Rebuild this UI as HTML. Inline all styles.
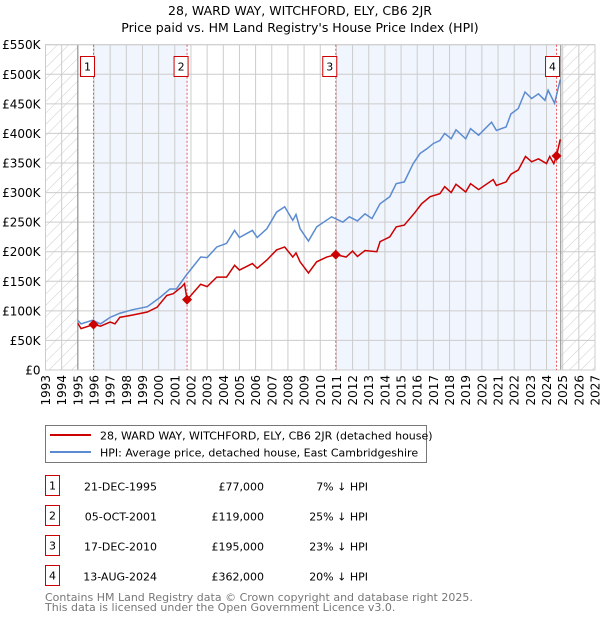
<!DOCTYPE html>
<html><head><meta charset="utf-8">
<style>
body{margin:0;background:#fff;font-family:"DejaVu Sans","Liberation Sans",sans-serif;}
svg text{font-family:"DejaVu Sans","Liberation Sans",sans-serif;}
</style></head>
<body>
<svg id="chart" width="600" height="620" xmlns="http://www.w3.org/2000/svg">
<defs>
<pattern id="hatch" width="8" height="8" patternUnits="userSpaceOnUse" patternTransform="rotate(45)">
<line x1="0" y1="0" x2="0" y2="8" stroke="#cccccc" stroke-width="1"/>
</pattern>
<clipPath id="plotclip"><rect x="45.5" y="44.7" width="549.5" height="325.3"/></clipPath>
</defs>
<text x="300" y="15" text-anchor="middle" font-size="12.5">28, WARD WAY, WITCHFORD, ELY, CB6 2JR</text>
<text x="300" y="32" text-anchor="middle" font-size="12.5">Price paid vs. HM Land Registry's House Price Index (HPI)</text>
<g id="plot"></g>
<g id="legend">
<rect x="45.5" y="425.5" width="381" height="37" fill="#fff" stroke="#777"/>
<line x1="50" y1="435" x2="91" y2="435" stroke="#cc0000" stroke-width="2"/>
<text x="100" y="439.5" font-size="11">28, WARD WAY, WITCHFORD, ELY, CB6 2JR (detached house)</text>
<line x1="50" y1="452" x2="91" y2="452" stroke="#5b8bd0" stroke-width="2"/>
<text x="100" y="456.5" font-size="11">HPI: Average price, detached house, East Cambridgeshire</text>
</g>
<g id="table"></g>
<text x="45" y="601" font-size="11" fill="#777">Contains HM Land Registry data © Crown copyright and database right 2025.</text>
<text x="45" y="611" font-size="11" fill="#777">This data is licensed under the Open Government Licence v3.0.</text>
</svg>
<script>
const hpiYears=[1995.0,1995.2,1995.9,1996.4,1997.0,1997.6,1998.4,1999.3,2000.1,2000.7,2001.1,2001.7,2002.6,2003.0,2003.6,2004.2,2004.7,2005.0,2005.8,2006.1,2006.7,2007.3,2007.8,2008.3,2008.5,2008.75,2009.27,2009.78,2010.7,2011.4,2011.8,2012.3,2012.77,2013.2,2013.7,2014.3,2014.7,2015.2,2015.75,2016.17,2016.6,2017.0,2017.4,2017.7,2018.1,2018.4,2019.0,2019.3,2019.8,2020.6,2020.9,2021.5,2021.8,2022.25,2022.67,2023.08,2023.5,2023.9,2024.1,2024.5,2024.85];
const hpiValues=[84,78,84,78,89,96,102,107,123,137,137,160,191,190,208,214,236,224,236,224,239,267,276,253,263,239,218,242,259,250,259,252,264,256,281,293,315,318,349,366,374,383,388,400,391,406,391,408,397,419,405,411,433,442,470,459,467,456,473,451,491];
const propYears=[1995.0,1995.2,1996.0,1996.4,1997.0,1997.3,1997.6,1998.4,1999.3,1999.9,2000.5,2000.9,2001.4,2001.6,2001.75,2001.77,2002.6,2003.0,2003.6,2004.2,2004.7,2005.0,2005.8,2006.1,2006.7,2007.3,2007.8,2008.3,2008.5,2008.75,2009.27,2009.78,2010.4,2010.96,2011.6,2012.0,2012.3,2012.77,2013.5,2013.7,2014.3,2014.7,2015.2,2015.85,2016.27,2016.8,2017.4,2017.7,2018.1,2018.4,2019.0,2019.3,2019.8,2020.7,2020.9,2021.5,2021.8,2022.25,2022.7,2023.08,2023.5,2024.0,2024.2,2024.45,2024.62,2024.85];
const propValues=[79,70,77,74,81,78,89,93,98,106,126,129,140,146,121,119,145,141,157,157,177,169,180,172,186,203,208,191,198,183,164,183,191,195,191,201,192,202,200,217,225,242,245,266,281,293,298,310,300,314,301,315,305,322,312,318,331,338,361,352,357,349,361,349,362,390];
const saleLabels=["1","2","3","4"];
const saleYears=[1995.97,2001.76,2010.96,2024.62];
const salePrices=[77,119,195,362];
const saleDates=["21-DEC-1995","05-OCT-2001","17-DEC-2010","13-AUG-2024"];
const salePriceText=["£77,000","£119,000","£195,000","£362,000"];
const salePctText=["7% ↓ HPI","25% ↓ HPI","23% ↓ HPI","20% ↓ HPI"];
const yTicks=[0,50,100,150,200,250,300,350,400,450,500,550];
const yTickLabels=["£0","£50K","£100K","£150K","£200K","£250K","£300K","£350K","£400K","£450K","£500K","£550K"];
const xTicks=[1993,1994,1995,1996,1997,1998,1999,2000,2001,2002,2003,2004,2005,2006,2007,2008,2009,2010,2011,2012,2013,2014,2015,2016,2017,2018,2019,2020,2021,2022,2023,2024,2025,2026,2027];

const NS="http://www.w3.org/2000/svg";
const L=45.5,R=595,T=44.7,B=370;
const xs=y=>L+(y-1993)/(2027-1993)*(R-L);
const ys=v=>B-v/550*(B-T);
function mk(tag,attrs,parent){const e=document.createElementNS(NS,tag);for(const k in attrs)e.setAttribute(k,attrs[k]);parent.appendChild(e);return e;}
const plot=document.getElementById('plot');
let e;
e=mk('rect',{x:L,y:T,width:R-L,height:B-T,fill:'#fff'},plot);


// shaded ownership periods
e=mk('rect',{x:xs(saleYears[0]),y:T,width:xs(saleYears[1])-xs(saleYears[0]),height:B-T,fill:'#eef2fd',opacity:0.8},plot);


e=mk('rect',{x:xs(saleYears[2]),y:T,width:xs(saleYears[3])-xs(saleYears[2]),height:B-T,fill:'#eef2fd',opacity:0.8},plot);


// hatch
e=mk('rect',{x:L,y:T,width:xs(1995)-L,height:B-T,fill:'url(#hatch)'},plot);


e=mk('rect',{x:xs(2024.88),y:T,width:R-xs(2024.88),height:B-T,fill:'url(#hatch)'},plot);


// grid
yTicks.forEach((v,i)=>{
  e=mk('line',{x1:L,x2:R,y1:ys(v),y2:ys(v),stroke:'#cccccc','stroke-width':1},plot);
  
  
  e=mk('text',{x:L-5,y:ys(v)+4.5,'text-anchor':'end','font-size':12},plot);
  e.textContent=yTickLabels[i];
  
  
});
xTicks.forEach(y=>{
  e=mk('line',{x1:xs(y),x2:xs(y),y1:T,y2:B,stroke:'#cccccc','stroke-width':1},plot);
  
  
  e=mk('text',{x:0,y:0,'text-anchor':'end','font-size':12,transform:`translate(${xs(y)+4.5},${B+5}) rotate(-90)`},plot);
  e.textContent=y;
  
  
});
e=mk('line',{x1:xs(1995),x2:xs(1995),y1:T,y2:B,stroke:'#888','stroke-width':1},plot);


e=mk('line',{x1:xs(2024.88),x2:xs(2024.88),y1:T,y2:B,stroke:'#888','stroke-width':1},plot);


e=mk('rect',{x:L,y:T,width:R-L,height:B-T,fill:'none',stroke:'#cccccc'},plot);


// sale vlines
saleYears.forEach((y,i)=>{
  e=mk('line',{x1:xs(y),x2:xs(y),y1:T,y2:B,stroke:'#ee5555','stroke-width':1,'stroke-dasharray':'2,2'},plot);
  
  
});
// lines
const g=mk('g',{'clip-path':'url(#plotclip)'},plot);
e=mk('polyline',{points:hpiYears.map((y,i)=>xs(y)+','+ys(hpiValues[i])).join(' '),fill:'none',stroke:'#5b8bd0','stroke-width':1.5},g);


e=mk('polyline',{points:propYears.map((y,i)=>xs(y)+','+ys(propValues[i])).join(' '),fill:'none',stroke:'#cc0000','stroke-width':1.5},g);


saleYears.forEach((y,i)=>{
  const cx=xs(y),cy=ys(salePrices[i]);
  e=mk('polygon',{points:`${cx},${cy-5} ${cx+5},${cy} ${cx},${cy+5} ${cx-5},${cy}`,fill:'#cc0000'},plot);
  
  
  const bx=cx-7+(i===3?-4:0);
  e=mk('rect',{x:bx-(i===3?0:6),y:56.5,width:14,height:20,fill:'#fff',stroke:'#cc0000'},plot);
  
  
  e=mk('text',{x:bx-(i===3?0:6)+7,y:70.5,'text-anchor':'middle','font-size':11},plot);
  e.textContent=saleLabels[i];
  
  
});
// table
const tb=document.getElementById('table');
saleLabels.forEach((s,i)=>{
  const y0=475.5+i*30;
  e=mk('rect',{x:45.5,y:y0,width:14,height:20,fill:'#fff',stroke:'#cc0000'},tb);
  
  
  e=mk('text',{x:52.5,y:y0+14,'text-anchor':'middle','font-size':11},tb);e.textContent=s;
  
  
  e=mk('text',{x:157,y:y0+15,'text-anchor':'end','font-size':11},tb);e.textContent=saleDates[i];
  
  
  e=mk('text',{x:264,y:y0+15,'text-anchor':'end','font-size':11},tb);e.textContent=salePriceText[i];
  
  
  e=mk('text',{x:368,y:y0+15,'text-anchor':'end','font-size':11},tb);e.textContent=salePctText[i];
  
  
});
</script>
</body></html>
